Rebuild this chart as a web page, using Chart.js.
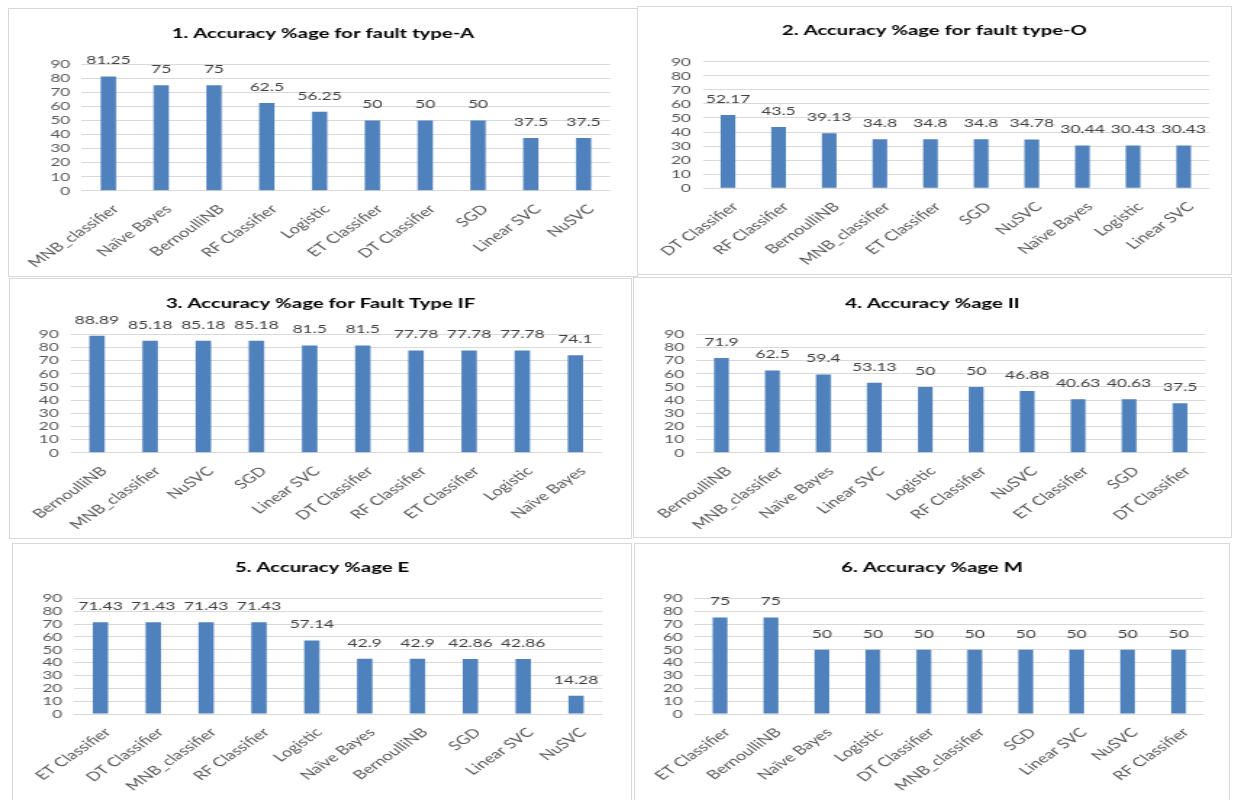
<!DOCTYPE html>
<html>
<head>
<meta charset="utf-8">
<title>Accuracy %age</title>
<script src="https://cdn.jsdelivr.net/npm/chart.js"></script>
<style>
  body { margin: 0; background: #fff; }
  #page { position: relative; width: 1235px; height: 800px; overflow: hidden; }
  .panel { position: absolute; border: 1px solid #d9d9d9; background: #fff; overflow: hidden; }
  .panel canvas { position: absolute; left: 0; top: 0; transform-origin: 0 0; }
</style>
</head>
<body>
<div id="page"></div>
<script>
// accuracy per classifier, one pair of arrays per fault type
var labelsA = ["MNB_classifier", "Naïve Bayes", "BernoulliNB", "RF Classifier", "Logistic", "ET Classifier", "DT Classifier", "SGD", "Linear SVC", "NuSVC"];
var accA = [81.25, 75, 75, 62.5, 56.25, 50, 50, 50, 37.5, 37.5];

var labelsO = ["DT Classifier", "RF Classifier", "BernoulliNB", "MNB_classifier", "ET Classifier", "SGD", "NuSVC", "Naïve Bayes", "Logistic", "Linear SVC"];
var accO = [52.17, 43.5, 39.13, 34.8, 34.8, 34.8, 34.78, 30.44, 30.43, 30.43];

var labelsIF = ["BernoulliNB", "MNB_classifier", "NuSVC", "SGD", "Linear SVC", "DT Classifier", "RF Classifier", "ET Classifier", "Logistic", "Naïve Bayes"];
var accIF = [88.89, 85.18, 85.18, 85.18, 81.5, 81.5, 77.78, 77.78, 77.78, 74.1];

var labelsII = ["BernoulliNB", "MNB_classifier", "Naïve Bayes", "Linear SVC", "Logistic", "RF Classifier", "NuSVC", "ET Classifier", "SGD", "DT Classifier"];
var accII = [71.9, 62.5, 59.4, 53.13, 50, 50, 46.88, 40.63, 40.63, 37.5];

var labelsE = ["ET Classifier", "DT Classifier", "MNB_classifier", "RF Classifier", "Logistic", "Naïve Bayes", "BernoulliNB", "SGD", "Linear SVC", "NuSVC"];
var accE = [71.43, 71.43, 71.43, 71.43, 57.14, 42.9, 42.9, 42.86, 42.86, 14.28];

var labelsM = ["ET Classifier", "BernoulliNB", "Naïve Bayes", "Logistic", "DT Classifier", "MNB_classifier", "SGD", "Linear SVC", "NuSVC", "RF Classifier"];
var accM = [75, 75, 50, 50, 50, 50, 50, 50, 50, 50];

var titles = [
  "1. Accuracy %age for fault type-A",
  "2. Accuracy %age for fault type-O",
  "3. Accuracy %age for Fault Type IF",
  "4. Accuracy %age II",
  "5. Accuracy %age E",
  "6. Accuracy %age M"
];
var yTicks = [0, 10, 20, 30, 40, 50, 60, 70, 80, 90];

// the charts are drawn narrow and stretched sideways
var S = 1.45;
var FONT = "Lato";

// page layout: box [left, top, width, height], plot [left, top, right, bottom], title centre y
var layout = [
  { box: [8, 8, 630, 269],   plot: [82, 64.3, 610, 190.7],    titleY: 33 },
  { box: [637, 6, 595, 269], plot: [702.6, 61.7, 1209, 188.3], titleY: 30.7 },
  { box: [9, 278, 623, 261], plot: [70.4, 334.3, 602, 452.7],  titleY: 303 },
  { box: [633, 277, 599, 261], plot: [696, 334.3, 1205.5, 452.7], titleY: 303 },
  { box: [12, 543, 620, 262], plot: [74, 598.3, 602.5, 714],   titleY: 567 },
  { box: [634, 543, 596, 262], plot: [694.5, 598.3, 1204, 714], titleY: 567 }
];

var sets = [
  [labelsA, accA], [labelsO, accO], [labelsIF, accIF],
  [labelsII, accII], [labelsE, accE], [labelsM, accM]
];

// numbers above the bars
var valueLabels = {
  id: "valueLabels",
  afterDatasetsDraw: function (chart) {
    var ctx = chart.ctx;
    var meta = chart.getDatasetMeta(0);
    var data = chart.data.datasets[0].data;
    ctx.save();
    ctx.font = "12px " + FONT;
    ctx.fillStyle = "#404040";
    ctx.textAlign = "center";
    ctx.textBaseline = "middle";
    meta.data.forEach(function (bar, i) {
      ctx.fillText(String(data[i]), bar.x, bar.y - 16);
    });
    ctx.restore();
  }
};

function makeChart(n) {
  var L = layout[n];
  var bx = L.box[0], by = L.box[1], bw = L.box[2], bh = L.box[3];
  var iw = bw - 2, ih = bh - 2;
  var ox = bx + 1, oy = by + 1;

  var div = document.createElement("div");
  div.className = "panel";
  div.style.left = bx + "px";
  div.style.top = by + "px";
  div.style.width = iw + "px";
  div.style.height = ih + "px";
  document.getElementById("page").appendChild(div);

  var W = Math.round(iw / S), H = ih;
  var sx = iw / W;
  var cv = document.createElement("canvas");
  cv.width = W;
  cv.height = H;
  cv.style.transform = "scaleX(" + sx + ")";
  div.appendChild(cv);

  var left = (L.plot[0] - ox) / sx;
  var right = (L.plot[2] - ox) / sx;
  var top = L.plot[1] - oy;
  var bottom = L.plot[3] - oy;
  var side = W - right;
  var yw = left - side;
  var fs = 14, lh = fs * 1.2;
  var tTop = L.titleY - oy - lh / 2;
  var tBot = top - tTop - lh;
  var xh = H - bottom;

  new Chart(cv, {
    type: "bar",
    data: {
      labels: sets[n][0],
      datasets: [{
        data: sets[n][1],
        backgroundColor: "#4f81bd",
        borderWidth: 0,
        categoryPercentage: 1,
        barPercentage: 0.29
      }]
    },
    options: {
      responsive: false,
      animation: false,
      devicePixelRatio: 1,
      layout: { padding: { left: side, right: side, top: 0, bottom: 0 } },
      plugins: {
        legend: { display: false },
        tooltip: { enabled: false },
        title: {
          display: true,
          text: titles[n],
          color: "#000",
          font: { family: FONT, size: fs, weight: "bold", lineHeight: 1.2 },
          padding: { top: tTop, bottom: tBot }
        }
      },
      scales: {
        x: {
          grid: { display: false },
          border: { display: false },
          ticks: {
            autoSkip: false,
            minRotation: 45,
            maxRotation: 45,
            padding: 3,
            labelOffset: 5,
            color: "#595959",
            font: { family: FONT, size: 12.5 }
          },
          afterFit: function (scale) { scale.height = xh; }
        },
        y: {
          min: 0,
          max: 90,
          afterBuildTicks: function (scale) {
            scale.ticks = yTicks.map(function (v) { return { value: v }; });
          },
          grid: { color: "#d9d9d9", drawTicks: false },
          border: { display: false },
          ticks: {
            autoSkip: false,
            padding: 8,
            color: "#595959",
            font: { family: FONT, size: 12 }
          },
          afterFit: function (scale) { scale.width = yw; }
        }
      }
    },
    plugins: [valueLabels]
  });
}

for (var i = 0; i < 6; i++) {
  makeChart(i);
}
</script>
</body>
</html>
